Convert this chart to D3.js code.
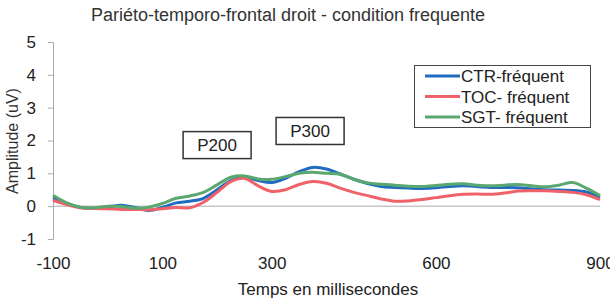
<!DOCTYPE html>
<html>
<head>
<meta charset="utf-8">
<script src="https://cdn.jsdelivr.net/npm/d3@7"></script>
<style>
  body { margin: 0; background: #fff; }
  svg { font-family: Arial, "Liberation Sans", sans-serif; }
</style>
</head>
<body>
<div id="chart"></div>
<script>
// time points (ms)
const times = [-100,-75,-50,-25,0,25,50,75,100,125,150,175,200,225,250,275,300,325,350,375,400,
  425,450,475,500,525,550,575,600,625,650,675,700,725,750,775,800,825,850,875,900];

const ctr = [0.25,0.08,-0.04,-0.06,-0.03,0.03,-0.04,-0.13,-0.04,0.10,0.15,0.24,0.50,0.78,0.88,0.78,0.72,0.85,1.05,1.18,1.13,
  0.98,0.82,0.69,0.60,0.57,0.55,0.54,0.56,0.60,0.62,0.60,0.57,0.57,0.56,0.53,0.50,0.49,0.48,0.43,0.27];
const toc = [0.18,0.05,-0.05,-0.07,-0.08,-0.10,-0.10,-0.11,-0.08,-0.04,-0.05,0.12,0.42,0.75,0.85,0.62,0.45,0.50,0.66,0.75,0.70,
  0.55,0.42,0.32,0.22,0.15,0.16,0.20,0.26,0.32,0.36,0.37,0.36,0.40,0.46,0.47,0.47,0.45,0.42,0.35,0.20];
const sgt = [0.33,0.10,-0.03,-0.05,0.00,-0.01,-0.06,-0.03,0.08,0.24,0.31,0.42,0.65,0.88,0.92,0.83,0.82,0.90,1.00,1.03,1.00,
  0.97,0.82,0.71,0.67,0.64,0.61,0.60,0.63,0.67,0.68,0.64,0.62,0.64,0.66,0.62,0.59,0.64,0.72,0.55,0.32];

const seriesNames = ["CTR-fréquent", "TOC- fréquent", "SGT- fréquent"];
const seriesColors = ["#1f6cc0", "#f0626a", "#5aa870"];
const seriesValues = [ctr, toc, sgt];

const xTicks = [-100, 100, 300, 600, 900];
const yTicks = [-1, 0, 1, 2, 3, 4, 5];

const peakLabels = ["P200", "P300"];
const peakTimes = [200, 370];
const peakValues = [1.86, 2.29];

const width = 610, height = 302;

const svg = d3.select("#chart").append("svg")
  .attr("width", width)
  .attr("height", height);

const x = d3.scaleLinear().domain([-100, 900]).range([53, 600]);
const y = d3.scaleLinear().domain([-1, 5]).range([239, 42]);

// title
svg.append("text")
  .attr("x", 288).attr("y", 21)
  .attr("text-anchor", "middle")
  .attr("font-size", 18)
  .attr("fill", "#333")
  .text("Pariéto-temporo-frontal droit - condition frequente");

// y axis
const yAxis = svg.append("g")
  .attr("transform", `translate(${x(-100)},0)`)
  .call(d3.axisLeft(y).tickValues(yTicks).tickSize(5).tickPadding(12).tickFormat(d => String(d)));
yAxis.select(".domain").attr("stroke", "#aaa");
yAxis.selectAll(".tick line").attr("stroke", "#aaa");
yAxis.selectAll("text").attr("font-size", 17).attr("fill", "#222").attr("font-family", null);

// zero line
svg.append("line")
  .attr("x1", x(-100)).attr("x2", x(900))
  .attr("y1", y(0)).attr("y2", y(0))
  .attr("stroke", "#aaa");

// x axis labels
const xAxis = svg.append("g")
  .attr("transform", "translate(0,257)")
  .call(d3.axisBottom(x).tickValues(xTicks).tickSize(0).tickPadding(0).tickFormat(d => String(d)));
xAxis.select(".domain").remove();
xAxis.selectAll("text").attr("font-size", 17).attr("fill", "#222").attr("font-family", null);

// axis titles
svg.append("text")
  .attr("x", 328).attr("y", 295)
  .attr("text-anchor", "middle")
  .attr("font-size", 17)
  .attr("fill", "#222")
  .text("Temps en millisecondes");

svg.append("text")
  .attr("transform", "translate(18,141) rotate(-90)")
  .attr("text-anchor", "middle")
  .attr("font-size", 16)
  .attr("fill", "#333")
  .text("Amplitude (uV)");

// lines
const line = d3.line()
  .x((d, i) => x(times[i]))
  .y(d => y(d))
  .curve(d3.curveCatmullRom.alpha(0.5));

seriesValues.forEach((vals, k) => {
  svg.append("path")
    .datum(vals)
    .attr("fill", "none")
    .attr("stroke", seriesColors[k])
    .attr("stroke-width", 3)
    .attr("stroke-linejoin", "round")
    .attr("d", line);
});

// peak boxes
peakLabels.forEach((lab, i) => {
  const cx = x(peakTimes[i]), cy = y(peakValues[i]);
  svg.append("rect")
    .attr("x", cx - 34).attr("y", cy - 13.5)
    .attr("width", 68).attr("height", 27)
    .attr("fill", "#fff")
    .attr("stroke", "#333")
    .attr("stroke-width", 1.5);
  svg.append("text")
    .attr("x", cx).attr("y", cy + 6)
    .attr("text-anchor", "middle")
    .attr("font-size", 17)
    .attr("fill", "#222")
    .text(lab);
});

// legend
const legend = svg.append("g");
legend.append("rect")
  .attr("x", 414.5).attr("y", 65.5)
  .attr("width", 176).attr("height", 62)
  .attr("fill", "#fff")
  .attr("stroke", "#444");
seriesNames.forEach((name, k) => {
  const ly = 76 + k * 20.5;
  legend.append("line")
    .attr("x1", 425).attr("x2", 460)
    .attr("y1", ly).attr("y2", ly)
    .attr("stroke", seriesColors[k])
    .attr("stroke-width", 3);
  legend.append("text")
    .attr("x", 461).attr("y", ly + 6)
    .attr("font-size", 17)
    .attr("fill", "#222")
    .text(name);
});
</script>
</body>
</html>
